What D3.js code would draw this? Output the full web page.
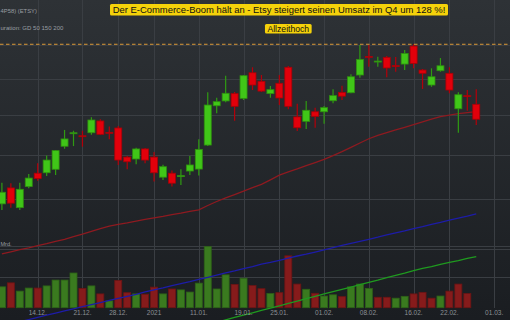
<!DOCTYPE html>
<html>
<head>
<meta charset="utf-8">
<script src="https://cdn.jsdelivr.net/npm/d3@7"></script>
<style>
  body { margin: 0; background: #1b1e22; overflow: hidden; }
  svg { display: block; font-family: "Liberation Sans", Arial, sans-serif; }
</style>
</head>
<body>
<div id="chart"></div>
<script>
// trading days shown as candles
const dates = ["08.12.","09.12.","10.12.","11.12.","14.12.","15.12.","16.12.","17.12.","18.12.","21.12.",
  "22.12.","23.12.","24.12.","28.12.","29.12.","30.12.","31.12.","04.01.","05.01.","06.01.",
  "07.01.","08.01.","11.01.","12.01.","13.01.","14.01.","15.01.","19.01.","20.01.","21.01.",
  "22.01.","25.01.","26.01.","27.01.","28.01.","29.01.","01.02.","02.02.","03.02.","04.02.",
  "05.02.","08.02.","09.02.","10.02.","11.02.","12.02.","16.02.","17.02.","18.02.","19.02.",
  "22.02.","23.02.","24.02.","25.02."];
const daysBefore = ["07.12."];
const daysAfter = ["26.02.","01.03."];

const open = [178.0,184.9,176.4,185.5,191.5,191.7,193.3,204.2,210.7,209.4,
  210.9,216.9,211.1,213.3,199.0,198.1,202.9,199.0,189.7,191.5,
  190.1,192.5,193.4,204.8,224.9,227.5,231.5,228.9,243.3,238.4,
  231.5,237.3,246.5,219.0,216.7,221.7,221.7,227.6,232.2,232.0,
  242.0,253.0,249.8,252.4,247.5,248.4,259.3,244.9,236.3,244.5,
  243.0,223.3,230.4,225.7];
const high = [187.2,187.0,187.2,191.1,196.1,199.7,202.4,212.3,211.9,211.9,
  218.8,217.8,214.0,214.3,199.5,203.5,203.4,201.4,195.4,192.7,
  193.3,199.5,207.6,232.2,229.3,241.6,232.4,242.0,246.5,242.0,
  235.7,242.0,247.2,226.0,227.5,223.9,224.8,233.9,235.9,242.4,
  259.9,259.9,252.8,253.2,252.6,256.9,260.4,245.5,245.9,252.0,
  246.5,232.2,233.5,233.9];
const low = [175.4,176.4,175.4,184.7,188.1,190.2,190.7,203.0,204.3,204.0,
  209.9,209.8,207.6,195.3,193.3,195.6,196.1,187.7,188.4,185.5,
  186.2,190.7,190.4,204.3,220.9,226.8,217.0,228.0,233.5,232.4,
  229.3,225.3,223.0,211.8,212.8,213.4,215.5,226.2,228.0,231.7,
  240.4,246.8,246.8,240.7,243.9,244.9,245.9,234.1,235.3,243.9,
  231.7,210.9,222.3,214.8];
const close = [183.0,178.3,184.3,189.3,189.1,197.6,202.1,207.8,210.9,209.1,
  217.4,210.1,210.8,197.6,196.8,202.9,197.6,191.7,194.5,187.0,
  190.4,195.3,202.7,225.3,227.1,231.7,224.6,241.6,236.3,232.9,
  233.7,229.1,224.6,213.4,222.5,219.3,223.9,230.4,230.1,241.0,
  251.2,252.4,250.2,246.1,246.9,254.8,248.8,243.0,241.0,247.4,
  233.5,230.9,230.0,217.8];
// volume in Mrd.
const volume = [0.68,0.81,0.54,0.64,0.64,0.71,0.90,0.90,1.13,0.63,
  0.71,0.45,0.22,0.89,0.49,0.45,0.44,0.67,0.45,0.61,
  0.58,0.51,0.80,1.99,0.61,1.07,0.76,0.96,0.72,0.62,
  0.46,0.49,1.69,0.77,0.60,0.47,0.38,0.42,0.36,0.68,
  0.77,0.63,0.34,0.34,0.31,0.37,0.45,0.50,0.31,0.38,
  0.54,0.77,0.46,null];
// moving averages GD 50 / 150 / 200
const gd50 = [158.0,158.8,159.6,160.3,161.1,161.9,162.8,163.6,164.6,165.6,
  166.7,167.8,168.8,169.5,170.1,170.8,171.5,172.2,172.8,173.5,
  174.1,174.8,175.5,177.3,179.0,180.6,182.0,183.5,185.0,186.5,
  188.5,190.6,192.1,193.5,195.0,196.4,197.9,199.7,201.6,203.7,
  205.8,207.9,209.6,211.0,212.3,213.6,215.0,216.4,217.8,219.2,
  219.9,220.7,221.3,221.8];
const gd150 = [133.1,133.8,134.4,135.1,135.8,136.5,137.2,137.9,138.6,139.3,
  140.0,140.7,141.4,142.1,142.8,143.5,144.3,145.0,145.7,146.5,
  147.2,147.9,148.7,149.4,150.2,151.0,151.7,152.5,153.3,154.2,
  154.8,155.6,156.4,157.2,157.9,158.7,159.5,160.4,161.2,162.0,
  162.8,163.6,164.4,165.3,166.1,166.9,167.8,168.6,169.5,170.3,
  171.2,172.1,172.9,173.8];
const gd200 = [null,null,null,null,null,null,null,null,null,null,
  null,null,null,null,null,null,null,null,null,null,
  null,null,null,null,134.2,135.0,135.8,136.5,137.3,138.1,
  138.8,139.6,140.4,141.2,142.0,142.8,143.6,144.4,145.2,146.0,
  146.8,147.6,148.4,149.3,150.1,150.9,151.8,152.6,153.3,154.1,
  154.8,155.5,156.3,157.0];

const tickDates = ["14.12.","21.12.","28.12.","04.01.","11.01.","19.01.","25.01.","01.02.","08.02.","16.02.","22.02.","01.03."];
const tickLabels = ["14.12.","21.12.","28.12.","2021","11.01.","19.01.","25.01.","01.02.","08.02.","16.02.","22.02.","01.03."];
const priceGrid = [160, 180, 200, 220, 240, 260];
const volumeGrid = [1, 2];

const title = "Der E-Commerce-Boom hält an - Etsy steigert seinen Umsatz im Q4 um 128 %!";
const athLabel = "Allzeithoch";
// header lines, as far as they are visible at the left edge
const stockName = "4P58) (ETSY)";
const configText = "uration: GD 50 150 200";
const volUnit = "Mrd.";

const width = 510, height = 320;

const svg = d3.select("#chart")
  .append("svg")
  .attr("width", width)
  .attr("height", height);

// background gradient
const defs = svg.append("defs");
const grad = defs.append("linearGradient")
  .attr("id", "bg")
  .attr("x1", 0).attr("y1", 0).attr("x2", 0).attr("y2", 1);
grad.append("stop").attr("offset", "0%").attr("stop-color", "#2e3236");
grad.append("stop").attr("offset", "100%").attr("stop-color", "#1a1d21");
svg.append("rect")
  .attr("width", width)
  .attr("height", height)
  .attr("fill", "url(#bg)");

// scales
const allDays = daysBefore.concat(dates, daysAfter);
const x = d3.scalePoint()
  .domain(allDays)
  .range([-7.05, 494.15]);

const y = d3.scaleLog()
  .domain([160, 240])
  .range([248.6, 78.5]);

const yVol = d3.scaleLinear()
  .domain([0, 2])
  .range([307.7, 246.3]);

// grid
const grid = svg.append("g").attr("stroke", "#3a3e43").attr("stroke-width", 1);
grid.selectAll(".vgrid")
  .data(tickDates)
  .join("line")
  .attr("x1", d => Math.round(x(d)) + 0.5)
  .attr("x2", d => Math.round(x(d)) + 0.5)
  .attr("y1", 0)
  .attr("y2", 308);
grid.selectAll(".hgrid")
  .data(priceGrid)
  .join("line")
  .attr("x1", 0).attr("x2", width)
  .attr("y1", d => Math.round(y(d)) + 0.5)
  .attr("y2", d => Math.round(y(d)) + 0.5);
grid.selectAll(".vol")
  .data(volumeGrid)
  .join("line")
  .attr("x1", 0).attr("x2", width)
  .attr("y1", d => Math.round(yVol(d)) + 0.5)
  .attr("y2", d => Math.round(yVol(d)) + 0.5);

// volume bars, coloured by close vs previous close
const volData = dates.map((d, i) => ({
  date: d,
  v: volume[i],
  up: i === 0 ? true : close[i] >= close[i - 1]
})).filter(d => d.v != null);

svg.append("g")
  .selectAll("rect")
  .data(volData)
  .join("rect")
  .attr("x", d => x(d.date) - 3.5)
  .attr("y", d => yVol(d.v))
  .attr("width", 7)
  .attr("height", d => yVol(0) - yVol(d.v))
  .attr("fill", d => d.up ? "#3a7a1f" : "#861b1b")
  .attr("stroke", d => d.up ? "#2d6217" : "#6b1414")
  .attr("stroke-width", 0.8);

// moving averages
const maLine = d3.line()
  .defined(d => d.v != null)
  .x(d => x(d.date))
  .y(d => y(d.v));

[[gd50, "#8e1a20"], [gd150, "#1d1ca8"], [gd200, "#1f9a1f"]].forEach(([vals, col]) => {
  svg.append("path")
    .datum(dates.map((d, i) => ({ date: d, v: vals[i] })))
    .attr("fill", "none")
    .attr("stroke", col)
    .attr("stroke-width", 1.3)
    .attr("d", maLine);
});

// candles
const candles = dates.map((d, i) => ({
  date: d, o: open[i], h: high[i], l: low[i], c: close[i]
}));
const cg = svg.append("g")
  .selectAll("g")
  .data(candles)
  .join("g");
cg.append("line")
  .attr("x1", d => x(d.date))
  .attr("x2", d => x(d.date))
  .attr("y1", d => y(d.h))
  .attr("y2", d => y(d.l))
  .attr("stroke", d => d.c >= d.o ? "#2f9a12" : "#b3000a")
  .attr("stroke-width", 1.2);
cg.append("rect")
  .attr("x", d => x(d.date) - 3.5)
  .attr("y", d => y(Math.max(d.o, d.c)))
  .attr("width", 7)
  .attr("height", d => Math.max(1, Math.abs(y(d.o) - y(d.c))))
  .attr("fill", d => d.c >= d.o ? "#40c618" : "#e2000b")
  .attr("stroke", d => d.c >= d.o ? "#2e900f" : "#a80008")
  .attr("stroke-width", 0.8);

// all-time-high line
const ath = d3.max(high);
svg.append("line")
  .attr("x1", 0).attr("x2", width)
  .attr("y1", y(ath)).attr("y2", y(ath))
  .attr("stroke", "#dc9a38")
  .attr("stroke-width", 1)
  .attr("stroke-dasharray", "3.5,2.5");

// x axis labels
svg.append("g")
  .selectAll("text")
  .data(tickDates)
  .join("text")
  .attr("x", d => x(d))
  .attr("y", 314.5)
  .attr("text-anchor", "middle")
  .style("font-size", "6.5px")
  .style("fill", "#8d9196")
  .text((d, i) => tickLabels[i]);

// header texts, fitted to the width they take in the picture
function fitText(txt, x0, yb, w, fs) {
  const t = svg.append("text")
    .attr("x", x0).attr("y", yb)
    .style("font-size", fs + "px")
    .style("fill", "#9a9ea3")
    .text(txt);
  const len = t.node().getComputedTextLength();
  t.style("font-size", (fs * w / len) + "px");
  return t;
}
fitText(stockName, 0.5, 12.5, 36.5, 7.5);
fitText(configText, 0.5, 29.5, 63, 6.5);
svg.append("text")
  .attr("x", 0.5).attr("y", 245.5)
  .style("font-size", "5.5px")
  .style("fill", "#9a9ea3")
  .text(volUnit);

// yellow label boxes
function labelBox(txt, cx, cy, w, h, fs) {
  const g = svg.append("g");
  g.append("rect")
    .attr("x", cx - w / 2).attr("y", cy - h / 2)
    .attr("width", w).attr("height", h)
    .attr("fill", "#f5d20a")
    .attr("rx", 1.5);
  const t = g.append("text")
    .attr("x", cx).attr("y", cy)
    .attr("text-anchor", "middle")
    .attr("dominant-baseline", "central")
    .style("font-size", fs + "px")
    .style("fill", "#111")
    .text(txt);
  // fit text to box width
  const len = t.node().getComputedTextLength();
  t.style("font-size", (fs * (w - 5) / len) + "px");
  return t;
}
labelBox(title, 279, 9.8, 338, 11.5, 10);
labelBox(athLabel, 288.3, 28.7, 46.7, 9.5, 8.5);
</script>
</body>
</html>
